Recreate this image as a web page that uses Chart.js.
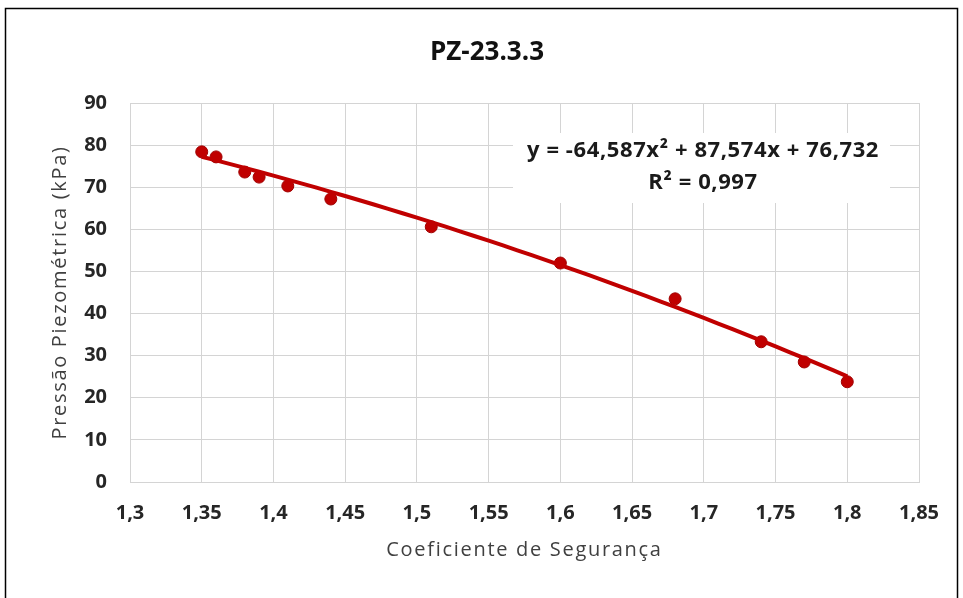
<!DOCTYPE html>
<html>
<head>
<meta charset="utf-8">
<script src="https://cdn.jsdelivr.net/npm/chart.js@4"></script>
<style>
  body { margin: 0; background: #fff; }
  #wrap { width: 963px; height: 598px; }
</style>
</head>
<body>
<div id="wrap"><canvas id="pzChart" width="963" height="598"></canvas></div>
<script>
// measured points: safety factor vs piezometric pressure
var fatorSeg = [1.35, 1.36, 1.38, 1.39, 1.41, 1.44, 1.51, 1.60, 1.68, 1.74, 1.77, 1.80];
var pressao  = [78.4, 77.2, 73.6, 72.4, 70.3, 67.2, 60.6, 52.0, 43.5, 33.3, 28.5, 23.8];

// polynomial trendline (order 2): a, b, c
var coefTendencia = [-64.587, 87.574, 76.732];
var textoEquacao = ['y = -64,587x\u00b2 + 87,574x + 76,732', 'R\u00b2 = 0,997'];

var xTicks = [1.3, 1.35, 1.4, 1.45, 1.5, 1.55, 1.6, 1.65, 1.7, 1.75, 1.8, 1.85];
var yTicks = [0, 10, 20, 30, 40, 50, 60, 70, 80, 90];

var titulo = 'PZ-23.3.3';
var tituloX = 'Coeficiente de Segurança';
var tituloY = 'Pressão Piezométrica (kPa)';

var pontos = fatorSeg.map(function (x, i) { return { x: x, y: pressao[i] }; });

// trend curve from the fitted coefficients
var curva = [];
for (var k = 0; k <= 45; k++) {
  var xv = 1.35 + k * 0.01;
  curva.push({ x: xv, y: coefTendencia[0] * xv * xv + coefTendencia[1] * xv + coefTendencia[2] });
}

var cinza = '#d4d4d4';
var vermelho = '#c00000';
var fonte = "'Open Sans', sans-serif";

var extras = {
  id: 'extras',
  afterDraw: function (chart) {
    var ctx = chart.ctx;
    var area = chart.chartArea;
    ctx.save();
    // outer frame
    ctx.strokeStyle = '#000';
    ctx.lineWidth = 1.5;
    ctx.strokeRect(5.5, 8.5, 952, 600);
    ctx.textAlign = 'center';
    ctx.textBaseline = 'middle';
    // title
    ctx.fillStyle = '#111';
    ctx.font = "bold 26px " + fonte;
    ctx.fillText(titulo, 487, 53);
    // axis titles
    ctx.fillStyle = '#404040';
    ctx.font = "20px " + fonte;
    ctx.letterSpacing = '1.7px';
    ctx.fillText(tituloX, (area.left + area.right) / 2, 550);
    ctx.save();
    ctx.translate(60, (area.top + area.bottom) / 2);
    ctx.rotate(-Math.PI / 2);
    ctx.fillText(tituloY, 0, 0);
    ctx.restore();
    // trendline label with white fill
    ctx.letterSpacing = '0.6px';
    ctx.fillStyle = '#fff';
    ctx.fillRect(513, 133, 377, 70);
    ctx.fillStyle = '#1a1a1a';
    ctx.font = "bold 22px " + fonte;
    ctx.fillText(textoEquacao[0], 703, 151);
    ctx.fillText(textoEquacao[1], 703, 183);
    ctx.letterSpacing = '0px';
    ctx.restore();
  }
};

new Chart(document.getElementById('pzChart'), {
  type: 'scatter',
  data: {
    datasets: [{
      data: curva,
      showLine: true,
      borderColor: vermelho,
      borderWidth: 4,
      pointRadius: 0,
      tension: 0
    }, {
      data: pontos,
      backgroundColor: vermelho,
      borderColor: '#a00000',
      borderWidth: 1,
      pointRadius: 6
    }]
  },
  options: {
    responsive: false,
    animation: false,
    layout: { padding: { top: 103, right: 44, left: 0, bottom: 0 } },
    plugins: { legend: { display: false }, tooltip: { enabled: false } },
    scales: {
      x: {
        type: 'linear',
        min: 1.3,
        max: 1.85,
        afterBuildTicks: function (s) { s.ticks = xTicks.map(function (v) { return { value: v }; }); },
        afterFit: function (s) { s.height = 116; },
        grid: { color: cinza, drawTicks: false },
        border: { color: cinza },
        ticks: {
          padding: 19,
          color: '#262626',
          font: { family: fonte, size: 20, weight: 'bold' },
          callback: function (v) { return String(+v.toFixed(2)).replace('.', ','); }
        }
      },
      y: {
        min: 0,
        max: 90,
        afterBuildTicks: function (s) { s.ticks = yTicks.map(function (v) { return { value: v }; }); },
        afterFit: function (s) { s.width = 130; },
        grid: { color: cinza, drawTicks: false },
        border: { color: cinza },
        ticks: {
          padding: 23,
          color: '#262626',
          font: { family: fonte, size: 20, weight: 'bold' }
        }
      }
    }
  },
  plugins: [extras]
});
</script>
</body>
</html>
